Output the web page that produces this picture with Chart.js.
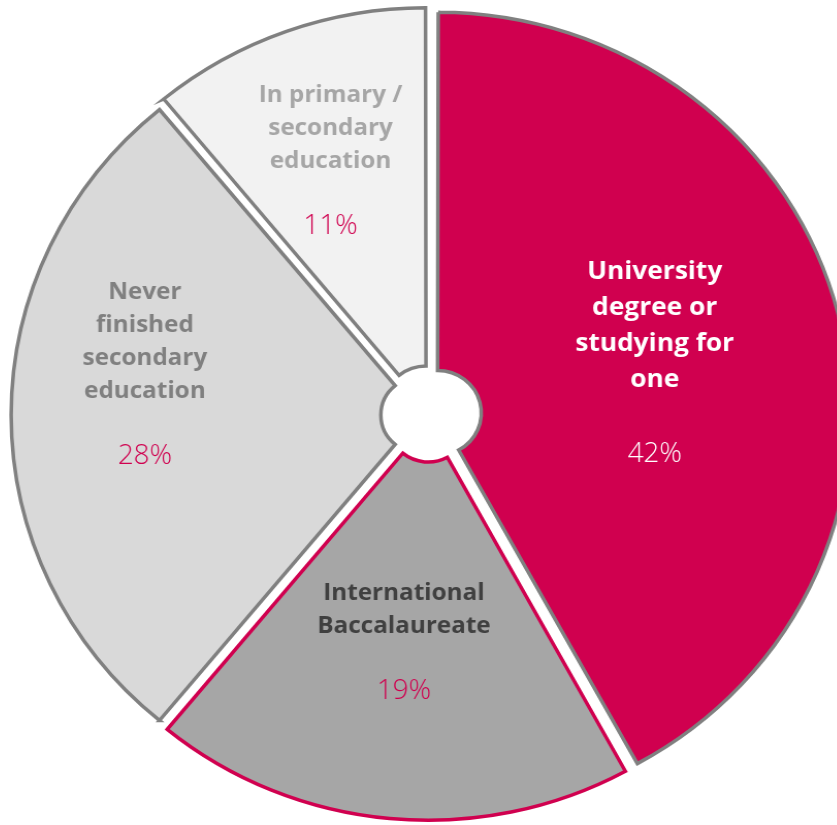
<!DOCTYPE html>
<html>
<head>
<meta charset="utf-8">
<script src="https://cdn.jsdelivr.net/npm/chart.js@4.4.1/dist/chart.umd.min.js"></script>
<style>
  html, body { margin: 0; padding: 0; background: #fff; overflow: hidden; }
  #wrap { position: absolute; left: -1px; top: 0px; width: 860px; height: 830px;
          transform: scaleX(1.032); transform-origin: 430px 0; }
</style>
</head>
<body>
<div id="wrap"><canvas id="chartCanvas" width="860" height="830"></canvas></div>
<script>
// Education level of respondents, share of total
const categories = [
    ["University", "degree or", "studying for", "one"],
    ["International", "Baccalaureate"],
    ["Never", "finished", "secondary", "education"],
    ["In primary /", "secondary", "education"]
];
const shares = [42, 19, 28, 11];

const sliceColors = ['#d0004f', '#a6a6a6', '#d9d9d9', '#f2f2f2'];
const edgeColors = ['#808080', '#d0004f', '#808080', '#808080'];
const nameColors = ['#ffffff', '#404040', '#808080', '#a6a6a6'];
const pctColors = ['#ffffff', '#d0004f', '#d0004f', '#d0004f'];

// where each text block sits: fraction of radius, angle nudge (deg), font sizes
const textPlacement = [
    {r: 0.563, turn: 3, size: 25.5, line: 36, gap: 75},
    {r: 0.596, turn: 0.5, size: 23.5, line: 33, gap: 66},
    {r: 0.700, turn: 7, size: 23.5, line: 33, gap: 66},
    {r: 0.669, turn: -1.3, size: 23.5, line: 33, gap: 66}
];

// draws the category name and its share inside every slice
const sliceText = {
    id: 'sliceText',
    afterDatasetsDraw(chart) {
        const ctx = chart.ctx;
        const arcs = chart.getDatasetMeta(0).data;
        const total = shares.reduce((a, b) => a + b, 0);
        arcs.forEach(function(arc, i) {
            const p = textPlacement[i];
            const mid = (arc.startAngle + arc.endAngle) / 2 + p.turn * Math.PI / 180;
            const cx = arc.x + Math.cos(mid) * arc.outerRadius * p.r;
            const cy = arc.y + Math.sin(mid) * arc.outerRadius * p.r;
            const lines = categories[i];
            // first baseline to percent baseline, centred on the anchor
            const span = (lines.length - 1) * p.line + p.gap;
            let y = cy - span / 2;
            ctx.save();
            ctx.textAlign = 'center';
            ctx.textBaseline = 'alphabetic';
            ctx.fillStyle = nameColors[i];
            ctx.font = 'bold ' + p.size + 'px "Open Sans", "Noto Sans", sans-serif';
            lines.forEach(function(t, k) {
                ctx.fillText(t, cx, y + k * p.line);
            });
            ctx.fillStyle = pctColors[i];
            ctx.font = '300 27px "Open Sans", "Noto Sans", sans-serif';
            ctx.fillText(Math.round(shares[i] / total * 100) + '%', cx, y + span);
            ctx.restore();
        });
    }
};

new Chart(document.getElementById('chartCanvas'), {
    type: 'doughnut',
    data: {
        labels: categories.map(l => l.join(' ')),
        datasets: [{
            data: shares,
            backgroundColor: sliceColors,
            borderColor: edgeColors,
            borderWidth: 3.5,
            borderJoinStyle: 'miter',
            offset: 34
        }]
    },
    options: {
        responsive: false,
        animation: false,
        cutout: 38,
        rotation: 0,
        layout: {padding: 0},
        plugins: {
            legend: {display: false},
            tooltip: {enabled: false}
        }
    },
    plugins: [sliceText]
});
</script>
</body>
</html>
